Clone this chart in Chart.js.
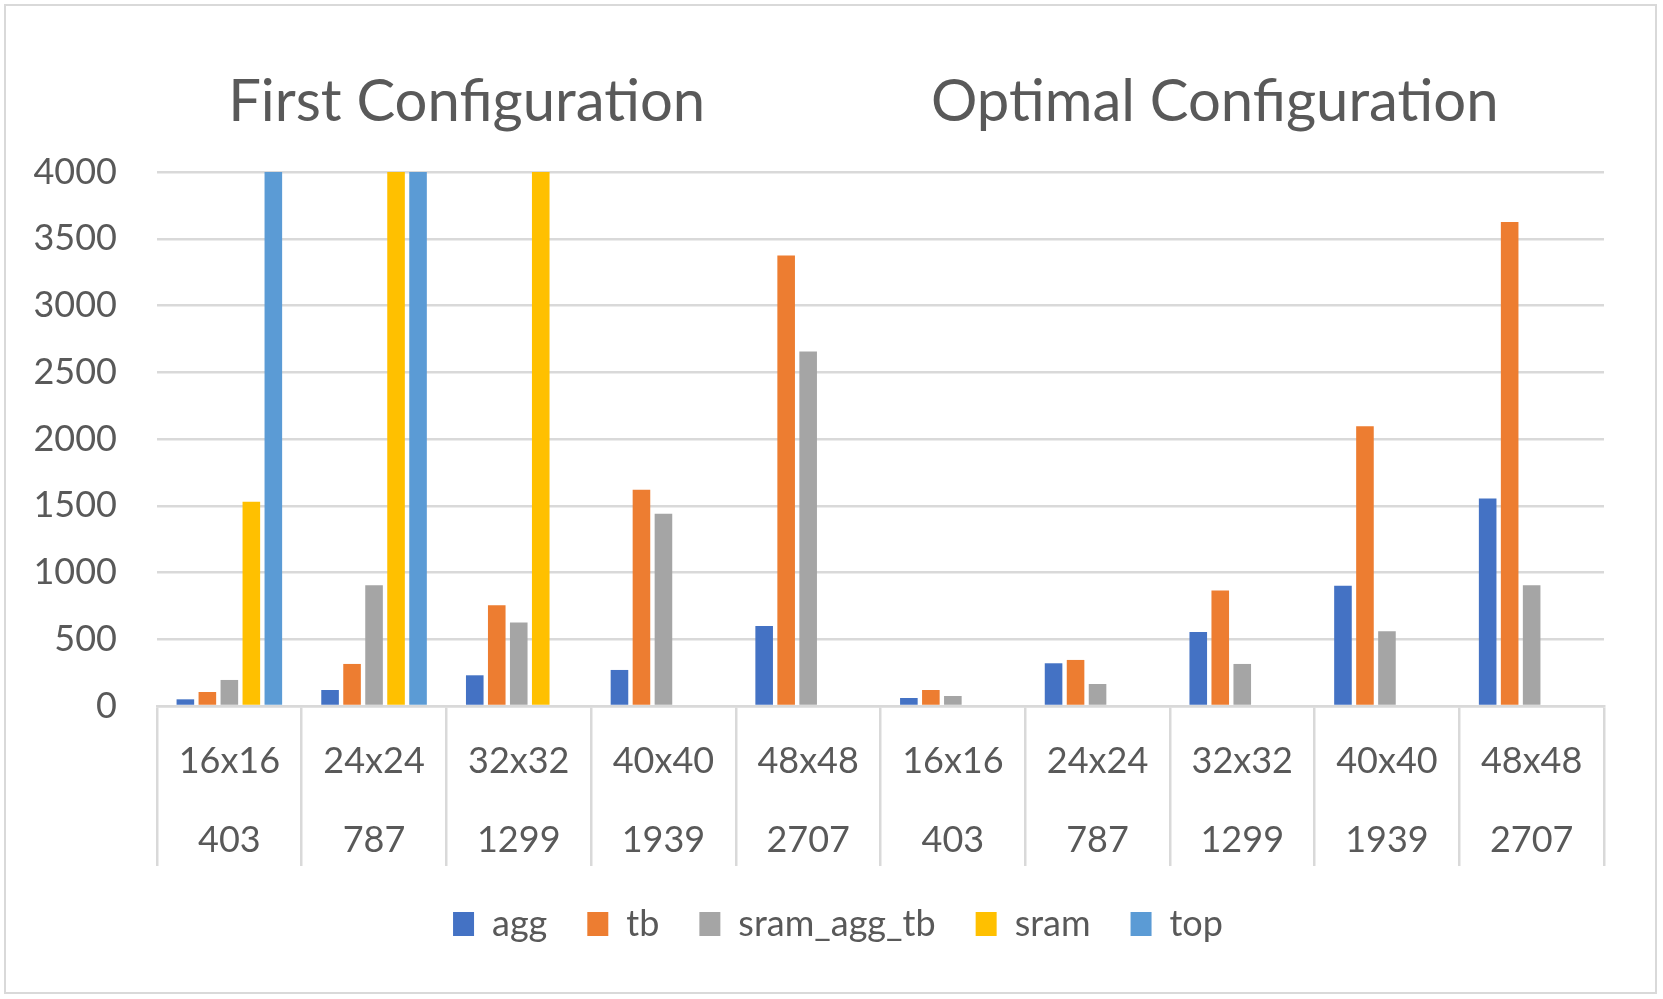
<!DOCTYPE html>
<html>
<head>
<meta charset="utf-8">
<script src="https://cdn.jsdelivr.net/npm/chart.js@4.4.1/dist/chart.umd.min.js"></script>
<style>
  body { margin: 0; background: #fff; }
  #wrap { position: relative; width: 1663px; height: 999px; }
  #frame { position: absolute; left: 4px; top: 4px; width: 1649px; height: 986px; border: 2px solid #d9d9d9; }
  canvas { position: absolute; left: 0; top: 0; }
</style>
</head>
<body>
<div id="wrap"><div id="frame"></div><canvas id="myChart" width="1663" height="999"></canvas></div>
<script>
const sizes = ['16x16', '24x24', '32x32', '40x40', '48x48', '16x16', '24x24', '32x32', '40x40', '48x48'];
const counts = ['403', '787', '1299', '1939', '2707', '403', '787', '1299', '1939', '2707'];

const aggVals = [50, 120, 230, 270, 600, 60, 320, 555, 900, 1555];
const tbVals = [105, 315, 755, 1620, 3375, 120, 345, 865, 2095, 3625];
const sramAggTbVals = [195, 905, 625, 1440, 2655, 75, 165, 315, 560, 905];
const sramVals = [1530, 4000, 4000, null, null, null, null, null, null, null];
const topVals = [4000, 4000, null, null, null, null, null, null, null, null];

const headings = [
  { text: 'First Configuration', at: 0.214 },
  { text: 'Optimal Configuration', at: 0.731 }
];

const textColor = '#595959';
const gridColor = '#d9d9d9';
const font = 'Lato';

// two captions over the halves of the plot
const headingPlugin = {
  id: 'headings',
  afterLayout(chart) {
    // the original legend sits a little right of the canvas centre
    chart.legend.left += 36;
    chart.legend.right += 36;
  },
  afterDraw(chart) {
    const { ctx, chartArea } = chart;
    ctx.save();
    ctx.font = '58px ' + font;
    ctx.fillStyle = textColor;
    ctx.textAlign = 'center';
    ctx.textBaseline = 'middle';
    headings.forEach(h => {
      ctx.fillText(h.text, chartArea.left + h.at * chartArea.width, chartArea.top - 70);
    });
    ctx.restore();
  }
};

const ds = (label, data, color) => ({
  label: label,
  data: data,
  backgroundColor: color,
  borderWidth: 0,
  categoryPercentage: 0.76,
  barPercentage: 0.8
});

const ctx = document.getElementById('myChart');
const myChart = new Chart(ctx, {
  type: 'bar',
  data: {
    labels: sizes.map((s, i) => [s, counts[i]]),
    datasets: [
      ds('agg', aggVals, '#4472C4'),
      ds('tb', tbVals, '#ED7D31'),
      ds('sram_agg_tb', sramAggTbVals, '#A5A5A5'),
      ds('sram', sramVals, '#FFC000'),
      ds('top', topVals, '#5B9BD5')
    ]
  },
  plugins: [headingPlugin],
  options: {
    responsive: false,
    animation: false,
    devicePixelRatio: 1,
    layout: { padding: { top: 172, right: 59, bottom: 47, left: 0 } },
    plugins: {
      tooltip: { enabled: false },
      legend: {
        position: 'bottom',
        labels: {
          color: textColor,
          font: { family: font, size: 36 },
          boxWidth: 21,
          boxHeight: 24,
          padding: 40
        }
      }
    },
    scales: {
      x: {
        afterFit: scale => { scale.height = 160; },
        grid: {
          offset: true,
          drawOnChartArea: false,
          drawTicks: true,
          tickLength: 160,
          tickColor: gridColor,
          lineWidth: 2.5
        },
        border: { color: gridColor, width: 2.5 },
        ticks: {
          color: textColor,
          font: { family: font, size: 36, lineHeight: 2.2 },
          padding: -144,
          maxRotation: 0,
          autoSkip: false
        }
      },
      y: {
        min: 0,
        max: 4000,
        afterFit: scale => { scale.width = 157; },
        grid: { color: gridColor, lineWidth: 2.5, drawTicks: false },
        border: { display: false },
        ticks: {
          stepSize: 500,
          color: textColor,
          font: { family: font, size: 36 },
          padding: 40,
          callback: v => String(v)
        }
      }
    }
  }
});
</script>
</body>
</html>
